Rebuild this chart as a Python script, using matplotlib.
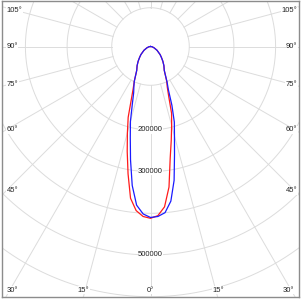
import numpy as np
import matplotlib
matplotlib.use("Agg")
import matplotlib.pyplot as plt

# ---- data (luminous intensity vs angle from nadir, degrees) ----
angles = [0, 2.5, 5, 7.5, 10, 12.5, 15, 17.5, 20, 22.5, 25, 30, 35, 40, 45, 50, 60, 70, 80, 90]
red_left = [412000, 408000, 395000, 367000, 310000, 258000, 214000, 178000, 134000, 108000,
            92000, 66000, 56000, 46000, 37000, 30000, 18000, 9000, 4000, 0]
red_right = [412000, 406000, 386000, 340000, 272000, 230000, 196000, 168000, 128000, 105000,
             92000, 66000, 56000, 46000, 37000, 30000, 18000, 9000, 4000, 0]
blue_left = [410000, 402000, 382000, 336000, 276000, 224000, 186000, 145000, 118000, 104000,
             92000, 66000, 56000, 46000, 37000, 30000, 18000, 9000, 4000, 0]
blue_right = [410000, 408000, 400000, 374000, 326000, 266000, 222000, 190000, 150000, 112000,
              94000, 66000, 56000, 46000, 37000, 30000, 18000, 9000, 4000, 0]

ring_values = [200000, 300000, 400000, 500000, 600000, 700000, 800000]
ring_labels = {200000: "200000", 300000: "300000", 500000: "500000"}
hole_radius = 93000
spoke_angles = list(range(0, 181, 15))

left_labels = ["105°", "90°", "75°", "60°", "45°"]
bottom_labels = ["30°", "15°", "0°", "15°", "30°"]

# ---- layout (pixels) ----
W = H = 301
PX = 100000 / 41.7          # intensity units per pixel
cx, cy = 150.5, 46.5        # pole position in pixels (y down)
L, R, T, B = 2, 299, 1, 297  # axes frame in pixels

fig = plt.figure(figsize=(W / 100, H / 100), dpi=100)
fig.patch.set_facecolor("white")
ax = fig.add_axes([L / W, (H - B) / H, (R - L) / W, (B - T) / H])
ax.set_xlim((L - cx) * PX, (R - cx) * PX)
ax.set_ylim((cy - B) * PX, (cy - T) * PX)
ax.set_xticks([]); ax.set_yticks([])
for s in ax.spines.values():
    s.set_color("#8c8c8c"); s.set_linewidth(1.0)

grid_c = "#dcdcdc"
t = np.linspace(0, 2 * np.pi, 720)
for rv in [hole_radius] + ring_values:
    ax.plot(rv * np.sin(t), rv * np.cos(t), color=grid_c, lw=0.7, zorder=1)
for a in spoke_angles:
    ar = np.radians(a)
    for sgn in (-1, 1):
        xs = [sgn * hole_radius * np.sin(ar), sgn * 2e6 * np.sin(ar)]
        ys = [-hole_radius * np.cos(ar), -2e6 * np.cos(ar)]
        ax.plot(xs, ys, color=grid_c, lw=0.7, zorder=1)

def curve(left, right):
    a = np.radians(np.array(angles, dtype=float))
    lv = np.array(left, dtype=float); rv = np.array(right, dtype=float)
    xl = -lv * np.sin(a); yl = -lv * np.cos(a)
    xr = rv * np.sin(a); yr = -rv * np.cos(a)
    x = np.concatenate([xl[::-1], xr[1:]])
    y = np.concatenate([yl[::-1], yr[1:]])
    return x, y

x, y = curve(red_left, red_right)
ax.plot(x, y, color="#ff1a1a", lw=0.9, zorder=3)
x, y = curve(blue_left, blue_right)
ax.plot(x, y, color="#1a1aff", lw=0.9, zorder=4)

tc = "#222222"
fnt = dict(family=["Liberation Sans", "DejaVu Sans"], fontsize=5.5, color=tc)
for rv, lab in ring_labels.items():
    ax.text(0, -rv, lab, ha="center", va="center", zorder=5,
            bbox=dict(boxstyle="square,pad=0.05", fc="white", ec="none"), **fnt)

def ptxt(px, py, s, ha):
    fig.text(px / W, 1 - py / H, s, ha=ha, va="center", zorder=6,
             bbox=dict(boxstyle="square,pad=0.05", fc="white", ec="none"), **fnt)

side_y = [11, 46.5, 84.5, 130, 191]
for lab, yy in zip(left_labels, side_y):
    ptxt(6.5, yy, lab, "left")
    ptxt(297.5, yy, lab, "right")
bottom_x = [12.5, 83.7, 150.5, 218, 288.5]
for lab, xx in zip(bottom_labels, bottom_x):
    ptxt(xx, 290, lab, "center")

fig.savefig("out.png", dpi=100, facecolor="white")
